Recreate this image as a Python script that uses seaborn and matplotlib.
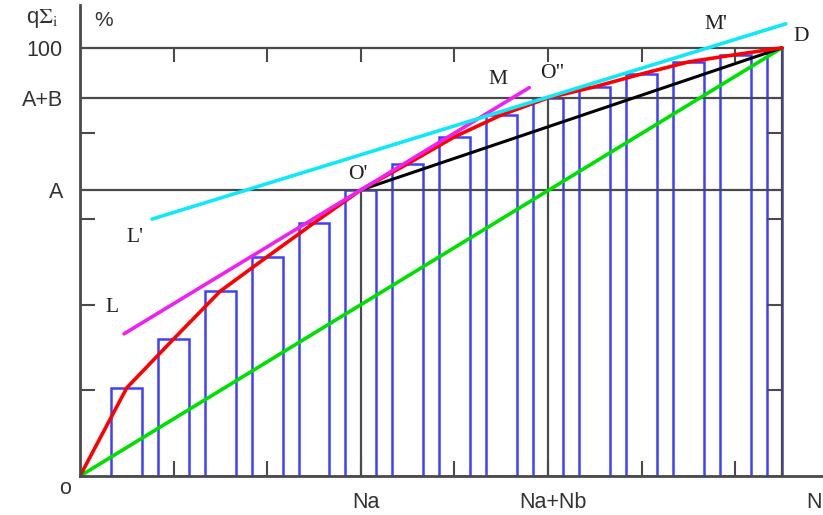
import numpy as np
import matplotlib
matplotlib.use("Agg")
import matplotlib.pyplot as plt
import seaborn as sns

# --- data (x in %-of-N units, N = 75) ---
N = 75
Na = 30
NaNb = 50
A = 66.8
AB = 88.3
TOP = 100

bar_x = [5, 10, 15, 20, 25, 30, 35, 40, 45, 50, 55, 60, 65, 70, 75]
bar_h = [20.6, 32.0, 43.2, 51.2, 59.1, 66.8, 72.9, 79.2, 84.3, 88.3,
         90.9, 93.9, 96.7, 98.4, 100]

curve_x = [0] + bar_x
curve_y = [0] + bar_h

green_x = [0, N]
green_y = [0, TOP]

black_x = [Na, N]
black_y = [A, TOP]

magenta_x = [4.7, 48.0]
magenta_y = [33.2, 90.7]

cyan_x = [7.7, 75.4]
cyan_y = [60.0, 105.6]

x_ticks = [10, 20, 30, 40, 50, 60, 70]
y_ticks = [20, 40, 60, 80]

point_labels = ["L'", "L", "O'", "M", 'O"', "M'", "D"]
point_x = [5.9, 3.4, 29.7, 44.7, 50.5, 67.9, 77.0]
point_y = [55.6, 39.3, 70.3, 92.5, 93.9, 105.4, 102.6]

sns.set_style("white")
plt.rcParams["font.family"] = ["Liberation Sans", "DejaVu Sans"]
plt.rcParams["mathtext.fontset"] = "stix"

AXC = "#4a4a4a"
BLUE = "#3f3fff"

fig = plt.figure(figsize=(8.23, 5.15), dpi=100)
ax = fig.add_axes([80 / 823, 39 / 515, 743 / 823, 471 / 515])

# outlined bars
sns.barplot(x=bar_x, y=bar_h, native_scale=True, fill=False, width=0.66,
            color=BLUE, linewidth=1.8, ax=ax)
for p in ax.patches:
    if p.get_x() + p.get_width() > N:
        p.set_width(N - p.get_x())

# frame lines and levels
ax.hlines([A, AB, TOP], 0, N, color=AXC, lw=1.6, zorder=2)
ax.vlines([Na, NaNb, N], 0, [A, AB, TOP], color=AXC, lw=1.6, zorder=2)
ax.plot(x_ticks, [TOP] * len(x_ticks), ls="none", marker=3, ms=10,
        mew=1.5, color=AXC)
ax.plot([N] * len(y_ticks), y_ticks, ls="none", marker=0, ms=11,
        mew=1.5, color=AXC)

sns.lineplot(x=green_x, y=green_y, color="#00e000", lw=2.6, sort=False, ax=ax)
sns.lineplot(x=black_x, y=black_y, color="black", lw=2.2, sort=False, ax=ax)
sns.lineplot(x=curve_x, y=curve_y, color="#ff0000", lw=2.6, sort=False, ax=ax)
sns.lineplot(x=magenta_x, y=magenta_y, color="#f020f0", lw=2.6, sort=False, ax=ax)
sns.lineplot(x=cyan_x, y=cyan_y, color="#10e8f8", lw=2.6, sort=False, ax=ax)

ax.set_xlim(0, 743 / 9.36)
ax.set_ylim(0, 110)

for side in ["top", "right"]:
    ax.spines[side].set_visible(False)
for side in ["left", "bottom"]:
    ax.spines[side].set_color(AXC)
    ax.spines[side].set_linewidth(2)

ax.set_xticks(x_ticks)
ax.set_yticks(y_ticks)
ax.tick_params(bottom=True, left=True, direction="in", length=11, width=1.5,
               color=AXC, labelbottom=False, labelleft=False)
ax.set_xlabel("")
ax.set_ylabel("")

# point labels
for t, x, y in zip(point_labels, point_x, point_y):
    ax.text(x, y, t, ha="center", va="center", fontsize=15.5,
            family=["Liberation Serif"], color="#222222")

# y labels
ytrans = ax.get_yaxis_transform()
for t, y in zip(["100", "A+B", "A"], [TOP, AB, A]):
    ax.annotate(t, xy=(0, y), xycoords=ytrans, xytext=(-17, -3),
                textcoords="offset pixels", ha="right", va="center",
                fontsize=15.5, color="#333333")

# x labels
xtrans = ax.get_xaxis_transform()
for t, x in zip(["Na", "Na+Nb"], [Na, NaNb]):
    ax.annotate(t, xy=(x, 0), xycoords=xtrans, xytext=(5, -27),
                textcoords="offset pixels", ha="center", va="center",
                fontsize=15.5, color="#333333")

fig.text(806 / 823, 1 - 503 / 515, "N", ha="left", va="center",
         fontsize=15.5, color="#333333")
fig.text(65 / 823, 1 - 489 / 515, "o", ha="center", va="center",
         fontsize=15.5, color="#333333")
fig.text(42 / 823, 1 - 18 / 515, r"q$\Sigma_\mathrm{i}$", ha="center",
         va="center", fontsize=16, color="#333333")
fig.text(104 / 823, 1 - 20 / 515, "%", ha="center", va="center",
         fontsize=15, color="#333333")

fig.savefig("out.png", dpi=100)
